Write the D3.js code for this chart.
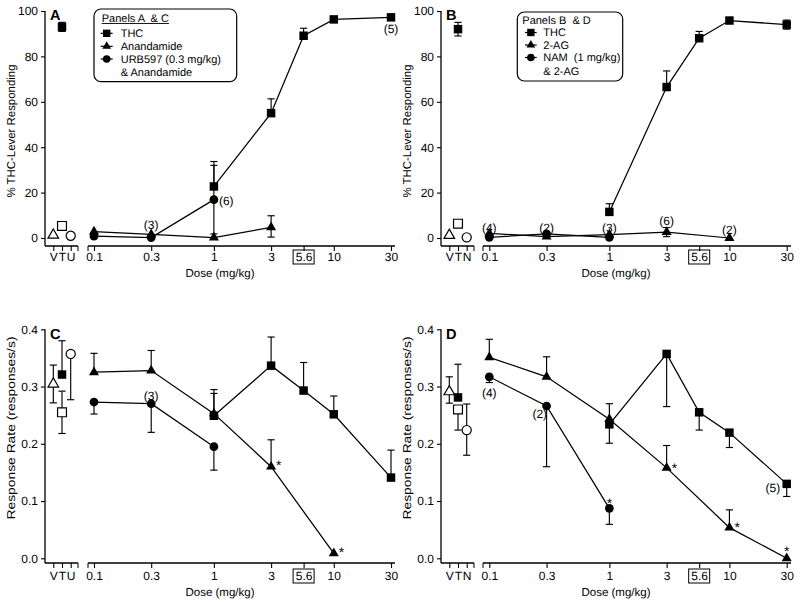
<!DOCTYPE html>
<html><head><meta charset="utf-8">
<script src="https://cdn.jsdelivr.net/npm/d3@7"></script>
<style>body{margin:0;background:#fff;} svg{display:block;} text{text-rendering:geometricPrecision;}</style>
</head><body>
<svg id="chart" width="800" height="604"></svg>
<script>
// ---------------- DATA ----------------
const doseTicks = [0.1, 0.3, 1, 3, 5.6, 10, 30];
const doseTickLabels = ["0.1", "0.3", "1", "3", "5.6", "10", "30"];
const boxedDose = 5.6;
const ctrlLabelsAC = ["V", "T", "U"];
const ctrlLabelsBD = ["V", "T", "N"];
const yTicksPct = [0, 20, 40, 60, 80, 100];
const yTicksRate = [0.0, 0.1, 0.2, 0.3, 0.4];

// Panel A (% THC-lever responding)
const aTHCDose = [1, 3, 5.6, 10, 30];
const aTHCVal  = [22.7, 55, 89.1, 96.3, 97.2];
const aTHCUp   = [11, 6.3, 3.3, 0, 0];
const aTHCDn   = [0, 0, 0, 0, 0];
const aAEADose = [0.1, 0.3, 1, 3];
const aAEAVal  = [2.8, 1.6, 0.2, 4.7];
const aAEAUp   = [0, 0, 0, 5.1];
const aAEADn   = [0, 0, 0, 4.3];
const aURBDose = [0.1, 0.3, 1];
const aURBVal  = [0.8, 0.2, 16.9];
const aURBUp   = [0, 0, 15.1];
const aURBDn   = [0, 0, 15.1];
const aCtrlGroup = ["V", "T", "T", "U"];
const aCtrlShape = ["triangle", "square", "square", "circle"];
const aCtrlFill  = [false, true, false, false];
const aCtrlVal   = [1.3, 93, 5.3, 1.0];
const aCtrlUp    = [0, 2, 0, 0];
const aCtrlDn    = [0, 2, 0, 0];
const aNotes = [
  {dose: 30, value: 92, text: "(5)", place: "center"},
  {dose: 0.3, value: 5.7, text: "(3)", place: "center"},
  {dose: 1, value: 16.3, text: "(6)", place: "right"}
];

// Panel B (% THC-lever responding)
const bTHCDose = [1, 3, 5.6, 10, 30];
const bTHCVal  = [11.5, 66.5, 88, 95.8, 94];
const bTHCUp   = [3.6, 7.1, 3, 0, 2];
const bTHCDn   = [0, 0, 0, 0, 2];
const b2AGDose = [0.1, 0.3, 1, 3, 10];
const b2AGVal  = [2.0, 0.6, 1.5, 2.6, 0];
const b2AGUp   = [0, 0, 0, 2, 0];
const b2AGDn   = [0, 0, 0, 2, 0];
const bNAMDose = [0.1, 0.3, 1];
const bNAMVal  = [0.3, 1.8, 0.3];
const bNAMUp   = [0, 0, 0];
const bNAMDn   = [0, 0, 0];
const bCtrlGroup = ["V", "T", "T", "N"];
const bCtrlShape = ["triangle", "square", "square", "circle"];
const bCtrlFill  = [false, true, false, false];
const bCtrlVal   = [1.2, 92, 6.3, 0.3];
const bCtrlUp    = [0, 3, 1.5, 0];
const bCtrlDn    = [0, 3, 1.5, 0];
const bNotes = [
  {dose: 0.1, value: 4.5, text: "(4)", place: "center"},
  {dose: 0.3, value: 4.5, text: "(2)", place: "center"},
  {dose: 1, value: 4.5, text: "(3)", place: "center"},
  {dose: 3, value: 7.6, text: "(6)", place: "center"},
  {dose: 10, value: 3.8, text: "(2)", place: "center"}
];

// Panel C (response rate)
const cTHCDose = [1, 3, 5.6, 10, 30];
const cTHCVal  = [0.249, 0.3365, 0.293, 0.2515, 0.141];
const cTHCUp   = [0.039, 0.05, 0.049, 0.032, 0.048];
const cTHCDn   = [0, 0, 0, 0, 0];
const cAEADose = [0.1, 0.3, 1, 3, 10];
const cAEAVal  = [0.325, 0.328, 0.2527, 0.160, 0.0087];
const cAEAUp   = [0.033, 0.035, 0.042, 0.047, 0];
const cAEADn   = [0, 0, 0, 0, 0];
const cURBDose = [0.1, 0.3, 1];
const cURBVal  = [0.273, 0.270, 0.195];
const cURBUp   = [0, 0, 0];
const cURBDn   = [0.021, 0.050, 0.041];
const cCtrlGroup = ["V", "T", "T", "U"];
const cCtrlShape = ["triangle", "square", "square", "circle"];
const cCtrlFill  = [false, true, false, false];
const cCtrlVal   = [0.3045, 0.321, 0.255, 0.357];
const cCtrlUp    = [0.033, 0.059, 0.037, 0];
const cCtrlDn    = [0.033, 0, 0.037, 0.080];
const cNotes = [
  {dose: 0.3, value: 0.284, text: "(3)", place: "center"},
  {dose: 3, value: 0.168, text: "*", place: "right"},
  {dose: 10, value: 0.0163, text: "*", place: "right"}
];

// Panel D (response rate)
const dTHCDose = [1, 3, 5.6, 10, 30];
const dTHCVal  = [0.234, 0.357, 0.255, 0.2195, 0.130];
const dTHCUp   = [0, 0, 0, 0, 0];
const dTHCDn   = [0.033, 0.092, 0.031, 0.026, 0.022];
const d2AGDose = [0.1, 0.3, 1, 3, 10, 30];
const d2AGVal  = [0.351, 0.317, 0.243, 0.158, 0.0536, 0.0];
const d2AGUp   = [0.0315, 0.035, 0.027, 0.039, 0.031, 0];
const d2AGDn   = [0, 0, 0, 0, 0, 0];
const dNAMDose = [0.1, 0.3, 1];
const dNAMVal  = [0.317, 0.266, 0.0873];
const dNAMUp   = [0, 0, 0];
const dNAMDn   = [0.010, 0.106, 0.028];
const dCtrlGroup = ["V", "T", "T", "N"];
const dCtrlShape = ["triangle", "square", "square", "circle"];
const dCtrlFill  = [false, true, false, false];
const dCtrlVal   = [0.291, 0.281, 0.260, 0.224];
const dCtrlUp    = [0.026, 0.058, 0, 0.0455];
const dCtrlDn    = [0.020, 0, 0.036, 0.044];
const dNotes = [
  {dose: 0.1, value: 0.290, text: "(4)", place: "center"},
  {dose: 0.3, value: 0.253, text: "(2)", place: "leftTight"},
  {dose: 30, value: 0.123, text: "(5)", place: "left"},
  {dose: 1, value: 0.1018, text: "*", place: "center"},
  {dose: 3, value: 0.164, text: "*", place: "right"},
  {dose: 10, value: 0.060, text: "*", place: "right"},
  {dose: 30, value: 0.0175, text: "*", place: "center"}
];

const legendACLabels = ["THC", "Anandamide", "URB597 (0.3 mg/kg)", "& Anandamide"];
const legendBDLabels = ["THC", "2-AG", "NAM  (1 mg/kg)", "& 2-AG"];
const legendShapes = ["square", "triangle", "circle"];

// ---------------- DRAWING ----------------
const FONT = "'Liberation Sans', Arial, Helvetica, sans-serif";
const INK = "#000";
const svg = d3.select("#chart");
svg.append("rect").attr("width", 800).attr("height", 604).attr("fill", "#fff");

function zip(dose, val, up, dn) {
  return dose.map((d, i) => ({dose: d, val: val[i], up: up[i], dn: dn[i]}));
}
const symSize = {square: 72, triangle: 44, circle: 60};
function sym(shape, scale = 1) {
  const t = shape === "square" ? d3.symbolSquare : shape === "triangle" ? d3.symbolTriangle : d3.symbolCircle;
  return d3.symbol().type(t).size(symSize[shape] * scale)();
}

const leftGeom = {yAxisX: 45, ctrl: [53.3, 70.7], ctrlEnd: 78, mainStart: 88, x01: 94, x30: 391, mainEnd: 395};
const rightGeom = {yAxisX: 441, ctrl: [449.3, 466.7], ctrlEnd: 474, mainStart: 483, x01: 489.3, x30: 786.7, mainEnd: 791};
const topGeom = {domain: [0, 100], range: [238, 11], axisY: 246, tickLabY: 261, titleY: 277, yLabelC: 131, yLabelLen: 133, letterY: 19.5};
const botGeom = {domain: [0, 0.4], range: [558.3, 329.3], axisY: 563, tickLabY: 580, titleY: 596, yLabelC: 428, yLabelLen: 183, letterY: 338.5};

function drawPanel(p) {
  const g = svg.append("g");
  const H = p.hg, V = p.vg;
  const x = d3.scaleLog().domain([0.1, 30]).range([H.x01, H.x30]);
  const xc = d3.scalePoint().domain(p.ctrlLabels).range(H.ctrl);
  const y = d3.scaleLinear().domain(V.domain).range(V.range);

  // Y axis
  const ya = g.append("g").attr("transform", `translate(${H.yAxisX},0)`)
    .call(d3.axisLeft(y).tickValues(p.yTicks).tickSize(4).tickPadding(3).tickFormat(p.yFmt));
  ya.select(".domain").remove();
  ya.append("line").attr("x1", 0).attr("x2", 0).attr("y1", y(V.domain[1])).attr("y2", V.axisY)
    .attr("stroke", INK).attr("stroke-width", 1.3);

  // control x axis
  const xca = g.append("g").attr("transform", `translate(0,${V.axisY})`)
    .call(d3.axisBottom(xc).tickSize(5).tickPadding(4));
  xca.select(".domain").remove();
  xca.append("line").attr("x1", H.yAxisX).attr("x2", H.ctrlEnd).attr("y1", 0).attr("y2", 0)
    .attr("stroke", INK).attr("stroke-width", 1.3);
  xca.append("line").attr("x1", H.ctrlEnd).attr("x2", H.ctrlEnd).attr("y1", 0).attr("y2", 5).attr("stroke", INK);

  // main x axis
  const xa = g.append("g").attr("transform", `translate(0,${V.axisY})`)
    .call(d3.axisBottom(x).tickValues(doseTicks).tickSize(5).tickPadding(4)
      .tickFormat((d, i) => doseTickLabels[i]));
  xa.select(".domain").remove();
  xa.append("line").attr("x1", H.mainStart).attr("x2", H.mainEnd).attr("y1", 0).attr("y2", 0)
    .attr("stroke", INK).attr("stroke-width", 1.3);
  xa.append("line").attr("x1", H.mainStart).attr("x2", H.mainStart).attr("y1", 0).attr("y2", 5).attr("stroke", INK);

  [ya, xca, xa].forEach(a => {
    a.selectAll("text").attr("font-family", FONT).attr("font-size", 12).attr("fill", INK);
    a.selectAll(".tick line").attr("stroke", INK).attr("stroke-width", 1.1);
  });
  xa.selectAll("text").attr("y", null).attr("dy", null).attr("transform", `translate(0,${V.tickLabY - V.axisY})`);
  xca.selectAll("text").attr("y", null).attr("dy", null).attr("transform", `translate(0,${V.tickLabY - V.axisY})`);
  // box around 5.6
  xa.append("rect").attr("x", x(boxedDose) - 10.5).attr("y", V.tickLabY - V.axisY - 11)
    .attr("width", 21).attr("height", 14).attr("fill", "none").attr("stroke", INK).attr("stroke-width", 1);

  // axis titles
  g.append("text").attr("x", (H.yAxisX + H.mainEnd) / 2).attr("y", V.titleY)
    .attr("text-anchor", "middle").attr("font-family", FONT).attr("font-size", 11.5).attr("fill", INK)
    .text("Dose (mg/kg)");
  g.append("text").attr("transform", `translate(${H.yAxisX - 30},${V.yLabelC}) rotate(-90)`)
    .attr("text-anchor", "middle").attr("font-family", FONT).attr("font-size", 11.5).attr("fill", INK)
    .attr("textLength", V.yLabelLen).attr("lengthAdjust", "spacingAndGlyphs")
    .text(p.yLabel);

  // panel letter
  g.append("text").attr("x", H.yAxisX + 5).attr("y", V.letterY).attr("font-family", FONT)
    .attr("font-weight", "bold").attr("font-size", 14.5).attr("fill", INK).text(p.letter);

  // series lines
  const line = d3.line().x(d => x(d.dose)).y(d => y(d.val));
  p.series.forEach(s => {
    g.append("path").attr("d", line(s.data)).attr("fill", "none").attr("stroke", INK).attr("stroke-width", 1.25);
  });
  function errBar(cx, d) {
    const top = d.val + d.up, bot = d.val - d.dn;
    if (d.up <= 0 && d.dn <= 0) return;
    g.append("line").attr("x1", cx).attr("x2", cx).attr("y1", y(top)).attr("y2", y(bot))
      .attr("stroke", INK).attr("stroke-width", 1.15);
    if (d.up > 0) g.append("line").attr("x1", cx - 3.6).attr("x2", cx + 3.6).attr("y1", y(top)).attr("y2", y(top)).attr("stroke", INK).attr("stroke-width", 1.15);
    if (d.dn > 0) g.append("line").attr("x1", cx - 3.6).attr("x2", cx + 3.6).attr("y1", y(bot)).attr("y2", y(bot)).attr("stroke", INK).attr("stroke-width", 1.15);
  }
  p.series.forEach(s => s.data.forEach(d => errBar(x(d.dose), d)));
  p.series.forEach(s => s.data.forEach(d => {
    g.append("path").attr("d", sym(s.shape)).attr("transform", `translate(${x(d.dose)},${y(d.val)})`)
      .attr("fill", INK);
  }));

  // controls
  const ctrl = p.ctrl;
  ctrl.group.forEach((grp, i) => errBar(xc(grp), {val: ctrl.val[i], up: ctrl.up[i], dn: ctrl.dn[i]}));
  ctrl.group.forEach((grp, i) => {
    g.append("path").attr("d", sym(ctrl.shape[i], ctrl.fill[i] ? 1 : 1.1))
      .attr("transform", `translate(${xc(grp)},${y(ctrl.val[i])})`)
      .attr("fill", ctrl.fill[i] ? INK : "#fff").attr("stroke", INK).attr("stroke-width", ctrl.fill[i] ? 0 : 1.2);
  });

  // annotations
  p.notes.forEach(n => {
    const px = x(n.dose), py = y(n.value);
    const star = n.text === "*";
    let tx = px, anchor = "middle";
    if (n.place === "right") { tx = px + 5; anchor = "start"; }
    if (n.place === "left") { tx = px - 6.5; anchor = "end"; }
    if (n.place === "leftTight") { tx = px + 0.5; anchor = "end"; }
    g.append("text").attr("x", tx).attr("y", py).attr("dy", star ? "0.58em" : "0.36em")
      .attr("text-anchor", anchor).attr("font-family", FONT).attr("font-size", star ? 14 : 12)
      .attr("fill", INK).text(n.text);
  });

  // legend
  if (p.legend) {
    const L = p.legend;
    g.append("rect").attr("x", L.x).attr("y", L.y).attr("width", L.w).attr("height", L.h)
      .attr("rx", 7).attr("fill", "#fff").attr("stroke", INK).attr("stroke-width", 1.2);
    const tt = g.append("text").attr("x", L.titleX).attr("y", L.titleY).attr("font-family", FONT)
      .attr("font-size", 11).attr("fill", INK).style("white-space", "pre").text(L.title);
    if (L.underline) {
      const w = tt.node().getComputedTextLength();
      g.append("line").attr("x1", L.titleX).attr("x2", L.titleX + w).attr("y1", L.titleY + 1.5).attr("y2", L.titleY + 1.5)
        .attr("stroke", INK).attr("stroke-width", 0.9);
    }
    L.labels.forEach((lab, i) => {
      const cy = L.rowY[i];
      if (i < legendShapes.length) {
        g.append("line").attr("x1", L.mx1).attr("x2", L.mx2).attr("y1", cy).attr("y2", cy).attr("stroke", INK).attr("stroke-width", 1.2);
        g.append("path").attr("d", sym(legendShapes[i], 0.75)).attr("transform", `translate(${(L.mx1 + L.mx2) / 2},${cy})`).attr("fill", INK);
      }
      g.append("text").attr("x", L.textX).attr("y", cy).attr("dy", "0.36em").attr("font-family", FONT)
        .attr("font-size", 11).attr("fill", INK).style("white-space", "pre").text(lab);
    });
  }
}

const pctFmt = d3.format("d");
const rateFmt = d3.format(".1f");

drawPanel({
  letter: "A", hg: leftGeom, vg: topGeom, ctrlLabels: ctrlLabelsAC, yTicks: yTicksPct, yFmt: pctFmt,
  yLabel: "% THC-Lever Responding",
  series: [
    {shape: "triangle", data: zip(aAEADose, aAEAVal, aAEAUp, aAEADn)},
    {shape: "circle", data: zip(aURBDose, aURBVal, aURBUp, aURBDn)},
    {shape: "square", data: zip(aTHCDose, aTHCVal, aTHCUp, aTHCDn)}
  ],
  ctrl: {group: aCtrlGroup, shape: aCtrlShape, fill: aCtrlFill, val: aCtrlVal, up: aCtrlUp, dn: aCtrlDn},
  notes: aNotes,
  legend: {x: 94, y: 9, w: 142.7, h: 72.7, title: "Panels A  & C", titleX: 101.7, titleY: 22, underline: true,
    labels: legendACLabels, rowY: [33.3, 46.3, 59, 71.7], mx1: 100.7, mx2: 112.7, textX: 120.7}
});
drawPanel({
  letter: "B", hg: rightGeom, vg: topGeom, ctrlLabels: ctrlLabelsBD, yTicks: yTicksPct, yFmt: pctFmt,
  yLabel: "% THC-Lever Responding",
  series: [
    {shape: "triangle", data: zip(b2AGDose, b2AGVal, b2AGUp, b2AGDn)},
    {shape: "circle", data: zip(bNAMDose, bNAMVal, bNAMUp, bNAMDn)},
    {shape: "square", data: zip(bTHCDose, bTHCVal, bTHCUp, bTHCDn)}
  ],
  ctrl: {group: bCtrlGroup, shape: bCtrlShape, fill: bCtrlFill, val: bCtrlVal, up: bCtrlUp, dn: bCtrlDn},
  notes: bNotes,
  legend: {x: 517.3, y: 12, w: 105.4, h: 69, title: "Panels B  & D", titleX: 522.3, titleY: 23.5, underline: false,
    labels: legendBDLabels, rowY: [32.5, 45, 57.5, 70.7], mx1: 525, mx2: 536.7, textX: 543.3}
});
drawPanel({
  letter: "C", hg: leftGeom, vg: botGeom, ctrlLabels: ctrlLabelsAC, yTicks: yTicksRate, yFmt: rateFmt,
  yLabel: "Response Rate (responses/s)",
  series: [
    {shape: "triangle", data: zip(cAEADose, cAEAVal, cAEAUp, cAEADn)},
    {shape: "circle", data: zip(cURBDose, cURBVal, cURBUp, cURBDn)},
    {shape: "square", data: zip(cTHCDose, cTHCVal, cTHCUp, cTHCDn)}
  ],
  ctrl: {group: cCtrlGroup, shape: cCtrlShape, fill: cCtrlFill, val: cCtrlVal, up: cCtrlUp, dn: cCtrlDn},
  notes: cNotes
});
drawPanel({
  letter: "D", hg: rightGeom, vg: botGeom, ctrlLabels: ctrlLabelsBD, yTicks: yTicksRate, yFmt: rateFmt,
  yLabel: "Response Rate (responses/s)",
  series: [
    {shape: "triangle", data: zip(d2AGDose, d2AGVal, d2AGUp, d2AGDn)},
    {shape: "circle", data: zip(dNAMDose, dNAMVal, dNAMUp, dNAMDn)},
    {shape: "square", data: zip(dTHCDose, dTHCVal, dTHCUp, dTHCDn)}
  ],
  ctrl: {group: dCtrlGroup, shape: dCtrlShape, fill: dCtrlFill, val: dCtrlVal, up: dCtrlUp, dn: dCtrlDn},
  notes: dNotes
});
</script>
</body></html>
